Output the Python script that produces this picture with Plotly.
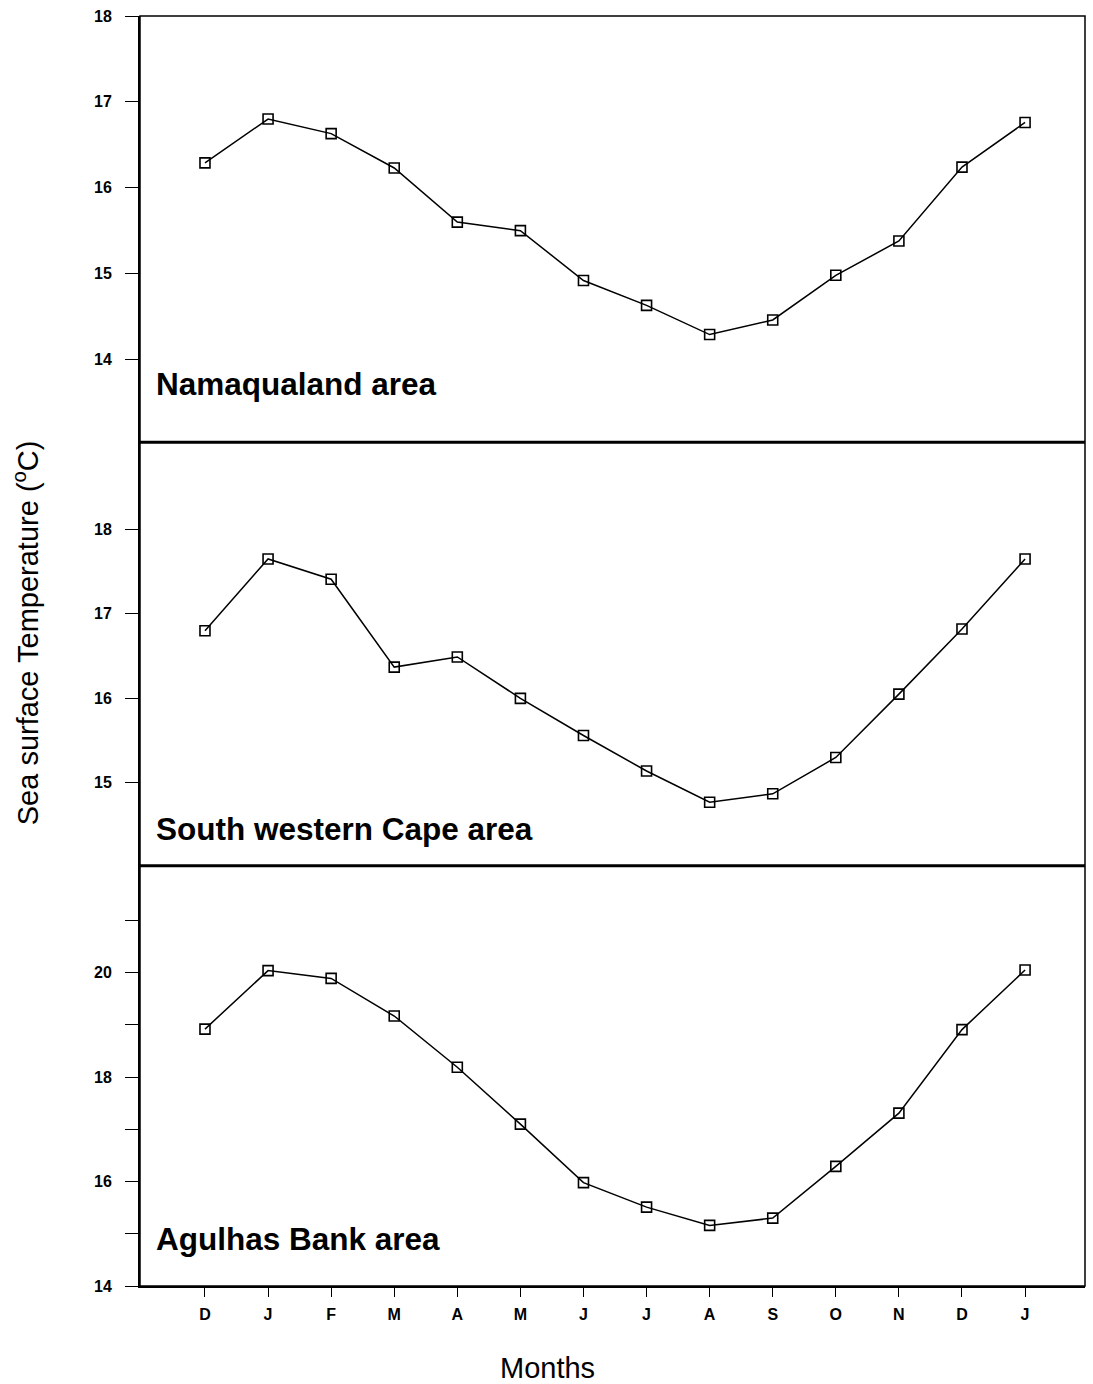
import plotly.graph_objects as go

# Months from December through the following January
months = ["D", "J", "F", "M", "A", "M", "J", "J", "A", "S", "O", "N", "D", "J"]
month_pos = list(range(1, len(months) + 1))

# Mean sea surface temperature (deg C) per area
namaqualand = [16.29, 16.80, 16.63, 16.23, 15.60, 15.50, 14.92, 14.63, 14.29, 14.46, 14.98, 15.38, 16.24, 16.76]
sw_cape = [16.80, 17.65, 17.41, 16.37, 16.49, 16.00, 15.56, 15.14, 14.77, 14.87, 15.30, 16.05, 16.82, 17.65]
agulhas = [18.92, 20.04, 19.89, 19.17, 18.19, 17.10, 15.98, 15.51, 15.16, 15.30, 16.29, 17.31, 18.91, 20.05]

area_names = ["Namaqualand area", "South western Cape area", "Agulhas Bank area"]

FONT = "Liberation Sans, Arial, Helvetica, sans-serif"

fig = go.Figure()

for vals, yax in [(namaqualand, "y"), (sw_cape, "y2"), (agulhas, "y3")]:
    fig.add_trace(go.Scatter(
        x=month_pos, y=vals, xaxis="x", yaxis=yax,
        mode="lines+markers",
        line=dict(color="black", width=1.5),
        marker=dict(symbol="square-open", size=10, color="black", line=dict(width=1.6)),
        showlegend=False,
        hoverinfo="x+y",
    ))

tickfont = dict(family=FONT, size=16, color="black", weight="bold")
common_y = dict(
    showgrid=False, zeroline=False, showline=True, linecolor="black", linewidth=2,
    ticks="outside", ticklen=13, tickwidth=1.3, tickcolor="black",
    tickfont=tickfont, ticklabelstandoff=10,
)

d_top = [0.6643, 1.0]
d_mid = [0.331, 0.6643]
d_bot = [0.0, 0.331]

fig.update_layout(
    width=1093, height=1384,
    margin=dict(l=140, r=8, t=14, b=98),
    paper_bgcolor="white", plot_bgcolor="white",
    font=dict(family=FONT, color="black"),
    xaxis=dict(
        anchor="y3", domain=[0, 1], range=[-0.03, 14.95],
        tickvals=month_pos, ticktext=months,
        showgrid=False, zeroline=False, showline=True, linecolor="black", linewidth=2,
        ticks="outside", ticklen=9, tickwidth=1.3, tickcolor="black",
        tickfont=tickfont, ticklabelstandoff=4,
    ),
    yaxis=dict(domain=d_top, range=[13.035, 18], tickvals=[14, 15, 16, 17, 18], anchor="x", **common_y),
    yaxis2=dict(domain=d_mid, range=[14.02, 19.03], tickvals=[15, 16, 17, 18], anchor="x", **common_y),
    yaxis3=dict(domain=d_bot, range=[14, 22.05], tickvals=[14, 16, 18, 20], anchor="x",
                minor=dict(ticks="outside", ticklen=13, tickwidth=1.3, tickcolor="black",
                           tickvals=[15, 17, 19, 21], showgrid=False),
                **common_y),
)

# Panel frame and the heavy separators between areas
fig.add_shape(type="rect", xref="paper", yref="paper", x0=0, x1=1, y0=0, y1=1,
              line=dict(color="black", width=1.5), layer="above")
for ysep in (d_mid[1], d_bot[1]):
    fig.add_shape(type="line", xref="paper", yref="paper", x0=0, x1=1, y0=ysep, y1=ysep,
                  line=dict(color="black", width=3), layer="above")

# Area names inside each panel
for name, yref, yval in zip(area_names, ["y", "y2", "y3"], [13.71, 14.45, 14.9]):
    fig.add_annotation(
        text=name, xref="paper", x=0.015, yref=yref, y=yval,
        xanchor="left", yanchor="middle", showarrow=False,
        font=dict(family=FONT, size=31.5, color="black", weight="bold"),
    )

# Axis titles
fig.add_annotation(
    text="Sea surface Temperature (<sup>o</sup>C)", textangle=-90,
    xref="paper", x=-0.1206, yref="paper", y=0.514,
    xanchor="center", yanchor="middle", showarrow=False,
    font=dict(family=FONT, size=29, color="black"),
)
fig.add_annotation(
    text="Months", xref="paper", x=0.4307, yref="paper", y=-0.0645,
    xanchor="center", yanchor="middle", showarrow=False,
    font=dict(family=FONT, size=29, color="black"),
)

fig.write_html("out.html")
